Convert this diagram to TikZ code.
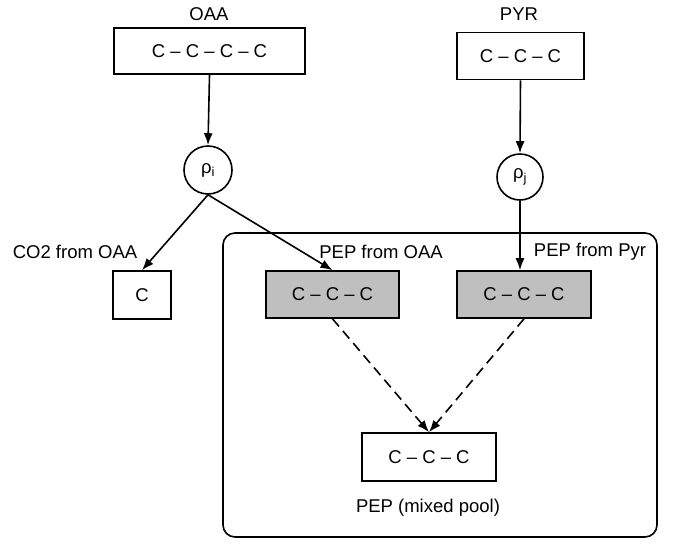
\documentclass[tikz,border=0pt]{standalone}
\usepackage{fontspec}
\setmainfont{Liberation Sans}
\usetikzlibrary{arrows.meta}
\begin{document}
\begin{tikzpicture}[x=1pt,y=-1pt,
  font=\fontsize{18.5}{21}\selectfont,
  box/.style={draw,line width=1.6pt,inner sep=0pt},
  graybox/.style={box,fill=black!25},
  rho/.style={draw,circle,line width=1.6pt,inner sep=0pt},
  lbl/.style={inner sep=0pt},
  arr/.style={line width=1.6pt,-{Latex[length=12pt,width=9pt]}},
  darr/.style={arr,dash pattern=on 10pt off 6pt}]
\useasboundingbox (0,0) rectangle (685,542);
\draw[line width=1.6pt,rounded corners=12pt] (223,233) rectangle (657,537);
\node[box,minimum width=191pt,minimum height=46pt] (oaa) at (209.5,51) {C -- C -- C -- C};
\node[box,minimum width=127pt,minimum height=47pt] (pyr) at (520.5,56) {C -- C -- C};
\node[rho,minimum size=48pt] (rhoi) at (208,170) {ρ\textsubscript{i}};
\node[rho,minimum size=46pt] (rhoj) at (520,177) {ρ\textsubscript{j}};
\node[box,minimum width=58pt,minimum height=48pt] (cbox) at (142,295) {C};
\node[graybox,minimum width=133pt,minimum height=47pt] (pepo) at (332.5,294.5) {C -- C -- C};
\node[graybox,minimum width=134pt,minimum height=47pt] (pepp) at (524,294.5) {C -- C -- C};
\node[box,minimum width=134pt,minimum height=48pt] (mixed) at (429,457) {C -- C -- C};
\node[lbl] (loaa) at (209,14) {OAA};
\node[lbl] (lpyr) at (519,14) {PYR};
\node[lbl] (lco2) at (75,252) {CO2 from OAA};
\node[lbl] (lpepo) at (381,252) {PEP from OAA};
\node[lbl] (lpepp) at (590,252) {PEP from Pyr};
\node[lbl] (lmix) at (428,508) {PEP (mixed pool)};
\coordinate (pj) at (rhoj.south |- pepp.north);
\draw[arr] (oaa.south) -- (rhoi.north);
\draw[arr] (pyr.south) -- (rhoj.north);
\draw[arr] (rhoi.south) -- (cbox.north);
\draw[arr] (rhoi.south) -- (pepo.north);
\draw[arr] (rhoj.south) -- (pj);
\draw[darr] (pepo.south) -- (mixed.north);
\draw[darr] (pepp.south) -- (mixed.north);
\end{tikzpicture}
\end{document}
